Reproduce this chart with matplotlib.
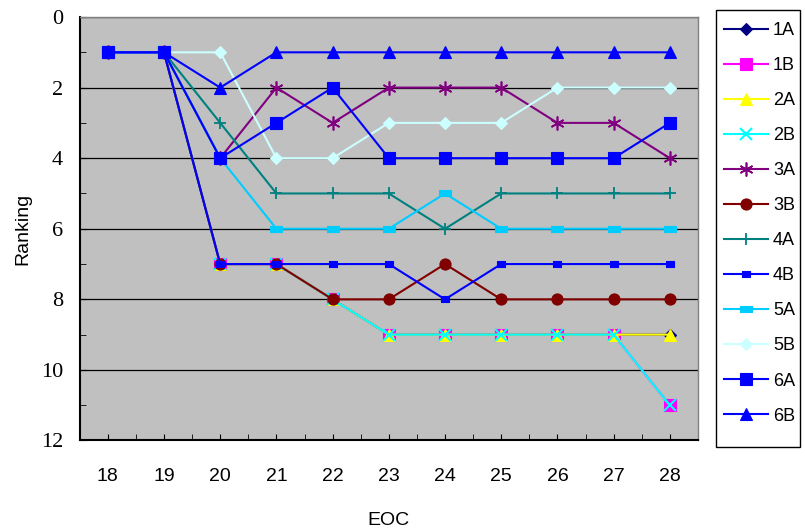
import matplotlib
matplotlib.use('Agg')
import matplotlib.pyplot as plt
from matplotlib.patches import Rectangle
from matplotlib.ticker import MultipleLocator

# EOC rounds and ranking per team
eoc = [18, 19, 20, 21, 22, 23, 24, 25, 26, 27, 28]
teams = ['1A', '1B', '2A', '2B', '3A', '3B', '4A', '4B', '5A', '5B', '6A', '6B']
y_ticks = [0, 2, 4, 6, 8, 10, 12]

rank_1A = [1, 1, 7, 7, 8, 9, 9, 9, 9, 9, 9]
rank_1B = [1, 1, 7, 7, 8, 9, 9, 9, 9, 9, 11]
rank_2A = [1, 1, 7, 7, 8, 9, 9, 9, 9, 9, 9]
rank_2B = [1, 1, 7, 7, 8, 9, 9, 9, 9, 9, 11]
rank_3A = [1, 1, 4, 2, 3, 2, 2, 2, 3, 3, 4]
rank_3B = [1, 1, 7, 7, 8, 8, 7, 8, 8, 8, 8]
rank_4A = [1, 1, 3, 5, 5, 5, 6, 5, 5, 5, 5]
rank_4B = [1, 1, 7, 7, 7, 7, 8, 7, 7, 7, 7]
rank_5A = [1, 1, 4, 6, 6, 6, 5, 6, 6, 6, 6]
rank_5B = [1, 1, 1, 4, 4, 3, 3, 3, 2, 2, 2]
rank_6A = [1, 1, 4, 3, 2, 4, 4, 4, 4, 4, 3]
rank_6B = [1, 1, 2, 1, 1, 1, 1, 1, 1, 1, 1]

ranks = [rank_1A, rank_1B, rank_2A, rank_2B, rank_3A, rank_3B,
         rank_4A, rank_4B, rank_5A, rank_5B, rank_6A, rank_6B]

dash_small = [(-1, -0.75), (1, -0.75), (1, 0.75), (-1, 0.75), (-1, -0.75)]
dash_wide = [(-1, -0.42), (1, -0.42), (1, 0.42), (-1, 0.42), (-1, -0.42)]

# colour, marker, markersize, marker edge width
styles = {
    '1A': ('#000080', 'D', 6, 0.8),
    '1B': ('#FF00FF', 's', 8, 0.8),
    '2A': ('#FFFF00', '^', 8, 0.8),
    '2B': ('#00FFFF', 'x', 8, 1.5),
    '3A': ('#800080', (6, 2, 0), 10, 1.2),
    '3B': ('#800000', 'o', 8, 0.8),
    '4A': ('#008080', '+', 9, 1.3),
    '4B': ('#0000FF', dash_small, 6, 0.8),
    '5A': ('#00CCFF', dash_wide, 9, 0.8),
    '5B': ('#CCFFFF', 'D', 6, 0.8),
    '6A': ('#0000FF', 's', 9, 0.8),
    '6B': ('#0000FF', '^', 9, 0.8),
}

sans = ['Liberation Sans', 'DejaVu Sans']
narrow = ['Liberation Sans Narrow', 'Liberation Sans', 'DejaVu Sans']
serif = ['Liberation Serif', 'DejaVu Serif']

W, H = 805, 532
fig = plt.figure(figsize=(W / 100, H / 100), dpi=100)
ax = fig.add_axes([0.099, 0.172, 0.768, 0.796])
ax.set_facecolor('#C0C0C0')

for team, vals in zip(teams, ranks):
    c, m, ms, mew = styles[team]
    ax.plot(eoc, vals, color=c, marker=m, markersize=ms, linewidth=1.5,
            markerfacecolor=c, markeredgecolor=c, markeredgewidth=mew,
            label=team)

ax.set_xlim(17.5, 28.5)
ax.set_ylim(12, 0)
ax.set_xticks(eoc, labels=[str(v) for v in eoc], fontsize=14, family=narrow)
ax.set_yticks(y_ticks, labels=[str(v) for v in y_ticks], fontsize=16, family=serif)
ax.xaxis.set_minor_locator(MultipleLocator(0.5))
ax.yaxis.set_minor_locator(MultipleLocator(1))
ax.grid(axis='y', which='major', color='black', linewidth=0.9)
ax.set_axisbelow(True)

ax.tick_params(axis='both', which='both', direction='in', color='black')
ax.tick_params(axis='x', which='both', length=4, pad=20)
ax.tick_params(axis='y', which='both', length=4, pad=12)

for s in ['left', 'bottom']:
    ax.spines[s].set_color('black')
    ax.spines[s].set_linewidth(1.5)
for s in ['top', 'right']:
    ax.spines[s].set_color('#808080')
    ax.spines[s].set_linewidth(1.0)

ax.set_xlabel('EOC', fontsize=14, family=sans, va='center')
ax.xaxis.set_label_coords(0.5, -0.188)
ax.set_ylabel('Ranking', fontsize=14, family=sans, va='center')
ax.yaxis.set_label_coords(-0.0917, 0.5)

# legend box drawn separately (behind the legend) so the padding matches
fig.patches.append(Rectangle((716 / W, 1 - 447 / H), 84 / W, 437 / H,
                             transform=fig.transFigure, facecolor='white',
                             edgecolor='black', linewidth=1.0, zorder=-1))
leg = ax.legend(loc='upper left', bbox_to_anchor=(724 / W, 1 - 22 / H),
                bbox_transform=fig.transFigure, frameon=False,
                prop={'family': sans, 'size': 13},
                labelspacing=1.0, handlelength=2.44, handletextpad=0.28,
                borderpad=0, borderaxespad=0)

fig.savefig('out.png', dpi=100)
